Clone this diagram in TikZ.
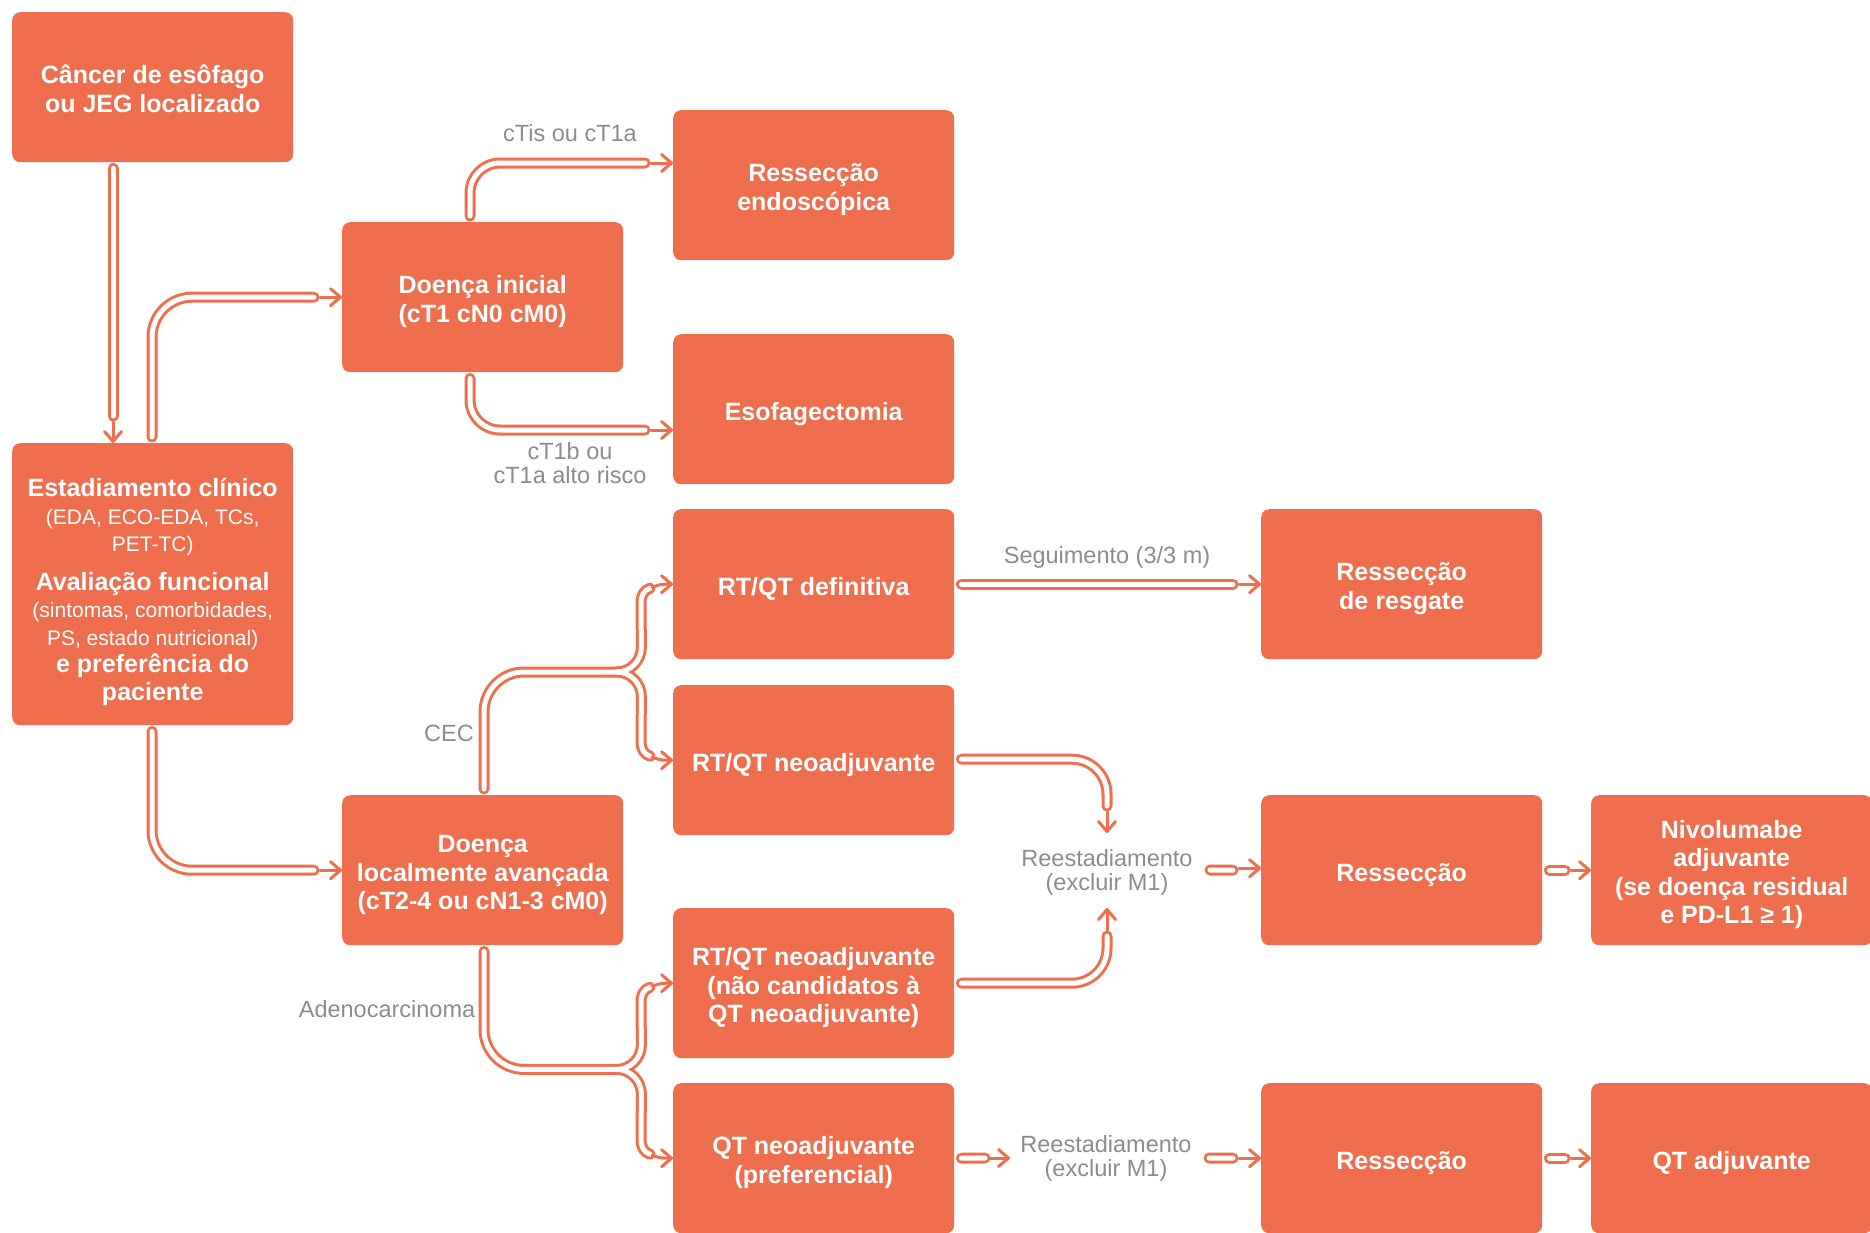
\documentclass[tikz,border=0pt]{standalone}
\usepackage{fontspec}
\setmainfont{Liberation Sans}
\usetikzlibrary{arrows.meta,calc}
\definecolor{boxc}{HTML}{EE6E4D}
\definecolor{labc}{HTML}{8C8C8C}
\newcommand\bigb[1]{{\bfseries\fontsize{25}{28.5}\selectfont #1}}
\newcommand\tp{\rule{0pt}{28pt}}
\newcommand\bt{\rule[-6pt]{0pt}{0pt}}
\newcommand\pipepaths[1]{%
  \draw[#1] ($(A.south west)+(101,6)$) -- ($(B.north west)+(101,-27)$);
  \draw[#1,rounded corners=40pt] ($(B.north west)+(140,-6)$) |- ($(C.west)+(-28,0)$);
  \draw[#1,rounded corners=30pt] ($(C.north west)+(128,-6)$) |- ($(E.north west)+(-28,53)$);
  \draw[#1,rounded corners=30pt] ($(C.south west)+(128,6)$) |- ($(F.north west)+(-28,96)$);
  \draw[#1,rounded corners=40pt] ($(B.south west)+(140,6)$) |- ($(D.west)+(-28,0)$);
  % CEC
  \draw[#1,rounded corners=40pt] ($(D.north west)+(142,-6)$) |- (cecJ);
  \draw[#1] (cecJ) .. controls ($(cecJ)+(14,0)$) and ($(cecJ)+(25,-11)$) .. ($(cecJ)+(25,-25)$)
     -- ($(G.west)+(-32,19)$) .. controls ($(G.west)+(-32,11)$) and ($(G.west)+(-29,6)$) .. ($(G.west)+(-23,4)$);
  \draw[#1] (cecJ) .. controls ($(cecJ)+(14,0)$) and ($(cecJ)+(25,11)$) .. ($(cecJ)+(25,25)$)
     -- ($(H.west)+(-32,-19)$) .. controls ($(H.west)+(-32,-11)$) and ($(H.west)+(-29,-6)$) .. ($(H.west)+(-23,-4)$);
  % Adenocarcinoma
  \draw[#1,rounded corners=40pt] ($(D.south west)+(142,6)$) |- (adJ);
  \draw[#1] (adJ) .. controls ($(adJ)+(14,0)$) and ($(adJ)+(25,-11)$) .. ($(adJ)+(25,-25)$)
     -- ($(I.west)+(-32,19)$) .. controls ($(I.west)+(-32,11)$) and ($(I.west)+(-29,6)$) .. ($(I.west)+(-23,4)$);
  \draw[#1] (adJ) .. controls ($(adJ)+(14,0)$) and ($(adJ)+(25,11)$) .. ($(adJ)+(25,25)$)
     -- ($(J.west)+(-32,-19)$) .. controls ($(J.west)+(-32,-11)$) and ($(J.west)+(-29,-6)$) .. ($(J.west)+(-23,-4)$);
  % right part
  \draw[#1] ($(G.east)+(7,0)$) -- ($(K.west)+(-28,0)$);
  \draw[#1,rounded corners=35pt] ($(H.east)+(7,-1)$) -| ($(r1)+(0,-66)$);
  \draw[#1,rounded corners=35pt] ($(I.east)+(7,0)$) -| ($(r1)+(0,64)$);
  \draw[#1] ($(r1)+(103,-2)$) -- ($(L.west)+(-28,0)$);
  \draw[#1] ($(L.east)+(7,0)$) -- ($(M.west)+(-26,0)$);
  \draw[#1] ($(J.east)+(7,0)$) -- ($(r2)+(-121,0)$);
  \draw[#1] ($(r2)+(103,0)$) -- ($(N.west)+(-28,0)$);
  \draw[#1] ($(N.east)+(7,0)$) -- ($(O.west)+(-26,0)$);
}
\begin{document}
\begin{tikzpicture}[x=1pt,y=-1pt,
  box/.style={fill=boxc, rounded corners=8pt, minimum width=281pt, minimum height=150pt,
    inner sep=2pt, text=white, align=center, anchor=north west,
    font=\fontsize{25}{28.5}\selectfont\bfseries},
  lab/.style={text=labc, align=center, inner sep=0pt, font=\fontsize{23.5}{24}\selectfont},
  pout/.style={draw=boxc, line width=11pt, line cap=round, line join=round},
  pin/.style={draw=white, line width=5pt, line cap=round, line join=round},
  arr/.style={draw=boxc, line width=3pt, line cap=round,
    -{Straight Barb[length=10pt,width=17pt,round]}}
]
\useasboundingbox (0,0) rectangle (1870,1232);
% boxes
\node[box] (A) at (12,12) {\tp Câncer de esôfago\\ou JEG localizado\bt};
\node[box, minimum height=282pt, font=\fontsize{21}{27.5}\selectfont] (B) at (12,443)
  {\bigb{\rule{0pt}{33.6pt}Estadiamento clínico}\\(EDA, ECO-EDA, TCs,\\PET-TC)\\[11pt]
   \bigb{Avaliação funcional}\\(sintomas, comorbidades,\\PS, estado nutricional)\\
   \bigb{e preferência do}\\\bigb{paciente}};
\node[box] (C) at (342,222) {\tp Doença inicial\\(cT1 cN0 cM0)\bt};
\node[box] (D) at (342,795) {\tp Doença\\localmente avançada\\(cT2-4 ou cN1-3 cM0)\bt};
\node[box] (E) at (673,110) {\tp Ressecção\\endoscópica\bt};
\node[box] (F) at (673,334) {\tp Esofagectomia\bt};
\node[box] (G) at (673,509) {\tp RT/QT definitiva\bt};
\node[box] (H) at (673,685) {\tp RT/QT neoadjuvante\bt};
\node[box] (I) at (673,908) {\tp RT/QT neoadjuvante\\(não candidatos à\\QT neoadjuvante)\bt};
\node[box] (J) at (673,1083) {\tp QT neoadjuvante\\(preferencial)\bt};
\node[box] (K) at (1261,509) {\tp Ressecção\\de resgate\bt};
\node[box] (L) at (1261,795) {\tp Ressecção\bt};
\node[box] (M) at (1591,795) {\tp Nivolumabe\\adjuvante\\(se doença residual\\e PD-L1 ≥ 1)\bt};
\node[box] (N) at (1261,1083) {\tp Ressecção\bt};
\node[box] (O) at (1591,1083) {\tp QT adjuvante\bt};
% labels
\node[lab] (l1) at (570,133) {cTis ou cT1a};
\node[lab] (l2) at (570,463) {cT1b ou\\cT1a alto risco};
\node[lab] (l3) at (449,733) {CEC};
\node[lab] (l4) at (387,1009) {Adenocarcinoma};
\node[lab] (l5) at (1107,557) {Seguimento (3/3 m)};
\node[lab] (r1) at (1107,872) {Reestadiamento\\(excluir M1)};
\node[lab] (r2) at (1106,1158) {Reestadiamento\\(excluir M1)};
% junctions
\coordinate (cecJ) at ($(D.north east)+(-7,-123)$);
\coordinate (adJ) at ($(D.south east)+(-7,124)$);
% pipes
\pipepaths{pout}
\pipepaths{pin}
% arrows
\draw[arr] ($(B.north west)+(101,-21)$) -- ($(B.north west)+(101,0)$);
\draw[arr] ($(C.west)+(-22,0)$) -- (C.west);
\draw[arr] ($(E.north west)+(-22,53)$) -- ($(E.north west)+(0,53)$);
\draw[arr] ($(F.north west)+(-22,96)$) -- ($(F.north west)+(0,96)$);
\draw[arr] ($(D.west)+(-22,0)$) -- (D.west);
\draw[arr] ($(G.west)+(-21,3)$) .. controls ($(G.west)+(-12,0)$) .. (G.west);
\draw[arr] ($(H.west)+(-21,-3)$) .. controls ($(H.west)+(-12,0)$) .. (H.west);
\draw[arr] ($(I.west)+(-21,3)$) .. controls ($(I.west)+(-12,0)$) .. (I.west);
\draw[arr] ($(J.west)+(-21,-3)$) .. controls ($(J.west)+(-12,0)$) .. (J.west);
\draw[arr] ($(K.west)+(-22,0)$) -- (K.west);
\draw[arr] ($(r1)+(0,-60)$) -- ($(r1)+(0,-39)$);
\draw[arr] ($(r1)+(0,58)$) -- ($(r1)+(0,36)$);
\draw[arr] ($(L.west)+(-22,-2)$) -- ($(L.west)+(0,-2)$);
\draw[arr] ($(M.west)+(-20,0)$) -- (M.west);
\draw[arr] ($(r2)+(-116,0)$) -- ($(r2)+(-96,0)$);
\draw[arr] ($(N.west)+(-22,0)$) -- (N.west);
\draw[arr] ($(O.west)+(-20,0)$) -- (O.west);
\end{tikzpicture}
\end{document}
